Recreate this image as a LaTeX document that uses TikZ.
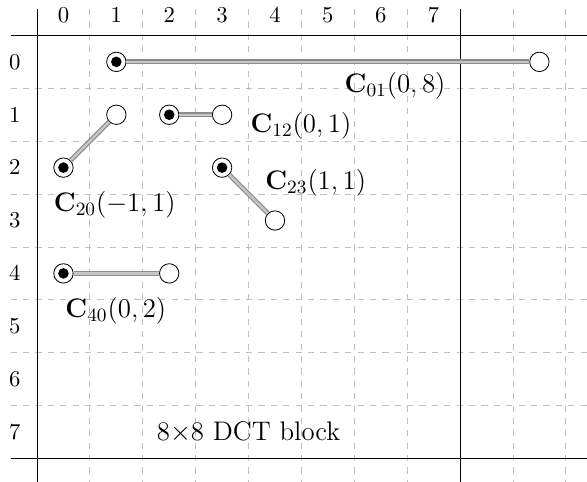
\RequirePackage{fix-cm}
\documentclass[tikz,border=0pt]{standalone}
\usepackage{amsmath,amssymb}
\usepackage{tikz}
\usetikzlibrary{calc}

\begin{document}
\begin{tikzpicture}[x=0.9cm,y=-0.9cm,
    gridln/.style={gray!50,dashed},
    frameln/.style={black,thin},
    axlbl/.style={font=\fontsize{11}{13}\selectfont},
    src/.style={circle,draw,fill=white,inner sep=0pt,minimum size=0.33cm,
      path picture={\fill[black] (path picture bounding box.center) circle (0.09cm);}},
    dst/.style={circle,draw,fill=white,inner sep=0pt,minimum size=0.33cm},
    mv/.style={draw=gray!90,double=gray!45,line width=0.6pt,double distance=1.1pt},
    lbl/.style={font=\fontsize{13}{15}\selectfont}]
  \useasboundingbox (-0.7,-0.67) rectangle (10.4,8.44);
  \clip (-0.7,-0.67) rectangle (10.4,8.44);
  % grid of the block and beyond
  \foreach \i in {1,2,3,4,5,6,7,9,10}{\draw[gridln] (\i,-0.5) -- (\i,8.6);}
  \foreach \j in {1,2,...,7}{\draw[gridln] (-0.5,\j) -- (10.6,\j);}
  \foreach \i in {0,8}{\draw[frameln] (\i,-0.5) -- (\i,8.6);}
  \foreach \j in {0,8}{\draw[frameln] (-0.5,\j) -- (10.6,\j);}
  \foreach \k in {0,...,7}{
    \node[axlbl] (col\k) at (\k+0.5,-0.39) {$\k$};
    \node[axlbl] (row\k) at (-0.42,\k+0.5) {$\k$};
  }
  % coefficients and their motion
  \node[src] (s01) at (1.5,0.5) {};
  \node[dst] (t01) at (9.5,0.5) {};
  \node[src] (s12) at (2.5,1.5) {};
  \node[dst] (t12) at (3.5,1.5) {};
  \node[src] (s20) at (0.5,2.5) {};
  \node[dst] (t20) at (1.5,1.5) {};
  \node[src] (s23) at (3.5,2.5) {};
  \node[dst] (t23) at (4.5,3.5) {};
  \node[src] (s40) at (0.5,4.5) {};
  \node[dst] (t40) at (2.5,4.5) {};
  \draw[mv] (s01) -- (t01);
  \draw[mv] (s12) -- (t12);
  \draw[mv] (s20) -- (t20);
  \draw[mv] (s23) -- (t23);
  \draw[mv] (s40) -- (t40);
  \node[lbl] (l01) at (6.77,0.95) {$\mathbf{C}_{01}(0,8)$};
  \node[lbl] (l12) at (4.99,1.71) {$\mathbf{C}_{12}(0,1)$};
  \node[lbl] (l20) at (1.47,3.21) {$\mathbf{C}_{20}(-1,1)$};
  \node[lbl] (l23) at (5.27,2.79) {$\mathbf{C}_{23}(1,1)$};
  \node[lbl] (l40) at (1.49,5.20) {$\mathbf{C}_{40}(0,2)$};
  \node[lbl] (blk) at (4,7.5) {$8{\times}8$ DCT block};
\end{tikzpicture}
\end{document}
